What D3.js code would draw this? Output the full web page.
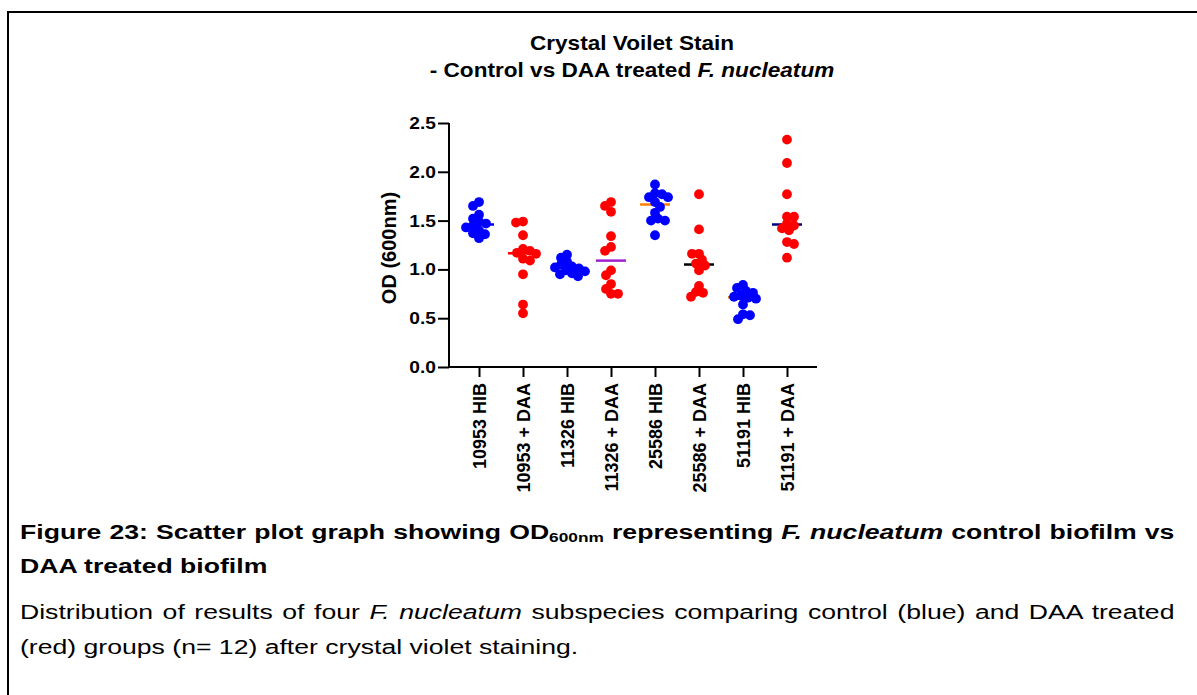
<!DOCTYPE html>
<html>
<head>
<meta charset="utf-8">
<script src="https://cdn.jsdelivr.net/npm/d3@7"></script>
<style>
  html, body { margin: 0; padding: 0; background: #fff; }
  #wrap { position: relative; width: 1197px; height: 695px; overflow: hidden; }
  svg { position: absolute; left: 0; top: 0; }
  .cap { position: absolute; left: 20px; width: 868px; font-family: "Liberation Sans", Arial, sans-serif;
         font-size: 20px; line-height: 20px; white-space: nowrap; color: #000;
         transform: scaleX(1.33); transform-origin: 0 0; }
  .cap.b { font-weight: bold; }
  .cap.j { text-align: justify; text-align-last: justify; white-space: normal; }
  .cap sub { font-size: 13px; line-height: 0; vertical-align: -3px; }
</style>
</head>
<body>
<div id="wrap">
  <svg id="chart" width="1197" height="695"></svg>
  <div class="cap b j" style="top:522px">Figure 23: Scatter plot graph showing OD<sub>600nm</sub> representing <i>F. nucleatum</i> control biofilm vs</div>
  <div class="cap b" style="top:556px">DAA treated biofilm</div>
  <div class="cap j" style="top:602px">Distribution of results of four <i>F. nucleatum</i> subspecies comparing control (blue) and DAA treated</div>
  <div class="cap" style="top:637px">(red) groups (n= 12) after crystal violet staining.</div>
</div>
<script>
// Groups shown on the x axis
const categories = ["10953 HIB", "10953 + DAA", "11326 HIB", "11326 + DAA",
                    "25586 HIB", "25586 + DAA", "51191 HIB", "51191 + DAA"];

// OD600 readings, n = 12 per group
const hib10953 = [1.69, 1.65, 1.56, 1.52, 1.49, 1.47, 1.45, 1.43, 1.40, 1.37, 1.36, 1.32];
const daa10953 = [1.49, 1.48, 1.35, 1.21, 1.19, 1.17, 1.16, 1.11, 1.09, 0.95, 0.64, 0.55];
const hib11326 = [1.15, 1.12, 1.08, 1.05, 1.03, 1.02, 1.01, 0.99, 0.98, 0.96, 0.95, 0.93];
const daa11326 = [1.69, 1.65, 1.59, 1.34, 1.23, 1.19, 0.99, 0.94, 0.85, 0.80, 0.75, 0.75];
const hib25586 = [1.87, 1.78, 1.77, 1.74, 1.74, 1.69, 1.64, 1.58, 1.52, 1.50, 1.50, 1.35];
const daa25586 = [1.77, 1.41, 1.16, 1.16, 1.10, 1.06, 1.04, 0.99, 0.83, 0.77, 0.76, 0.72];
const hib51191 = [0.84, 0.81, 0.78, 0.76, 0.73, 0.72, 0.71, 0.70, 0.64, 0.54, 0.53, 0.49];
const daa51191 = [2.33, 2.09, 1.77, 1.54, 1.54, 1.47, 1.45, 1.42, 1.40, 1.28, 1.26, 1.12];

const seriesValues = [hib10953, daa10953, hib11326, daa11326, hib25586, daa25586, hib51191, daa51191];

// Dot colour: control (blue) vs DAA treated (red)
const dotColors = ["#0000ff", "#ff0000", "#0000ff", "#ff0000", "#0000ff", "#ff0000", "#0000ff", "#ff0000"];
// Colour of the median bar of each group
const medianColors = ["#0000ff", "#ff0000", "#00a000", "#a020d0", "#ff8000", "#000000", "#c87a30", "#000080"];

const yTicks = [0, 0.5, 1.0, 1.5, 2.0, 2.5];

const titleLine1 = "Crystal Voilet Stain";
const yTitle = "OD (600nm)";

const FONT = "'Liberation Sans', Arial, sans-serif";
const SX = 1.13; // horizontal stretch of chart lettering
const svg = d3.select("#chart");

// page frame (top and left rule)
svg.append("path")
  .attr("d", "M8,695V12H1197")
  .attr("fill", "none").attr("stroke", "#000").attr("stroke-width", 2);

// plot area
const plot = { left: 449, right: 817, top: 123, bottom: 367 };

const x = d3.scalePoint().domain(categories).range([plot.left, plot.right]).padding(0.682);
const y = d3.scaleLinear().domain([0, 2.5]).range([plot.bottom, plot.top]);

// title
const title = svg.append("g").attr("font-family", FONT).attr("font-weight", "bold")
  .attr("font-size", 20).attr("text-anchor", "middle");
title.append("text").attr("transform", `translate(632,50) scale(${SX},1)`).text(titleLine1);
const t2 = title.append("text").attr("transform", `translate(632,77) scale(${SX},1)`);
t2.append("tspan").text("- Control vs DAA treated ");
t2.append("tspan").attr("font-style", "italic").text("F. nucleatum");

// y axis
const yAxis = svg.append("g").attr("transform", `translate(${plot.left},0)`)
  .call(d3.axisLeft(y).tickValues(yTicks).tickFormat(d3.format(".1f")).tickSize(11).tickPadding(2));
yAxis.select(".domain").attr("stroke-width", 2).attr("d", `M0,${plot.top}V${plot.bottom}`);
yAxis.selectAll(".tick line").attr("stroke-width", 2);
yAxis.selectAll(".tick text").attr("font-family", FONT).attr("font-weight", "bold")
  .attr("font-size", 17).attr("fill", "#000")
  .attr("x", 0).attr("transform", `translate(-13,0) scale(${SX},1)`);

// x axis
const xAxis = svg.append("g").attr("transform", `translate(0,${plot.bottom})`)
  .call(d3.axisBottom(x).tickSize(10).tickSizeOuter(0));
xAxis.select(".domain").attr("stroke-width", 2).attr("d", `M${plot.left - 1},0H${plot.right}`);
xAxis.selectAll(".tick line").attr("stroke-width", 2);
xAxis.selectAll(".tick text")
  .attr("font-family", FONT).attr("font-weight", "bold").attr("font-size", 18).attr("fill", "#000")
  .attr("text-anchor", "end")
  .attr("transform", "rotate(-90)")
  .attr("x", -16).attr("y", 0).attr("dy", "0.36em");

// y axis title
svg.append("text")
  .attr("transform", `translate(396,${(plot.top + plot.bottom) / 2 + 3}) rotate(-90)`)
  .attr("text-anchor", "middle")
  .attr("font-family", FONT).attr("font-weight", "bold").attr("font-size", 20)
  .text(yTitle);

// compact beeswarm: each dot goes as close to the group centre as it can
const R = 4.9;
function swarm(vals) {
  const placed = [];
  const sorted = vals.slice().sort((a, b) => b - a);
  const minD = 6.4;
  sorted.forEach((v, i) => {
    const py = y(v);
    let best = null;
    for (let k = 0; k < 60 && best === null; k++) {
      const cands = k === 0 ? [0] : (i % 2 ? [-k, k] : [k, -k]);
      for (const dx of cands) {
        if (placed.every(p => Math.hypot(p.dx - dx, p.py - py) >= minD)) { best = dx; break; }
      }
    }
    placed.push({ v, py, dx: best });
  });
  return placed;
}

const groups = svg.append("g");
categories.forEach((c, i) => {
  const cx = x(c);
  const vals = seriesValues[i];
  const med = d3.median(vals);
  // median bar under the dots
  groups.append("line")
    .attr("x1", cx - 15).attr("x2", cx + 15)
    .attr("y1", y(med)).attr("y2", y(med))
    .attr("stroke", medianColors[i]).attr("stroke-width", 2.5);
  groups.selectAll(null).data(swarm(vals)).enter().append("circle")
    .attr("cx", d => cx + d.dx)
    .attr("cy", d => d.py)
    .attr("r", R)
    .attr("fill", dotColors[i]);
});
</script>
</body>
</html>
